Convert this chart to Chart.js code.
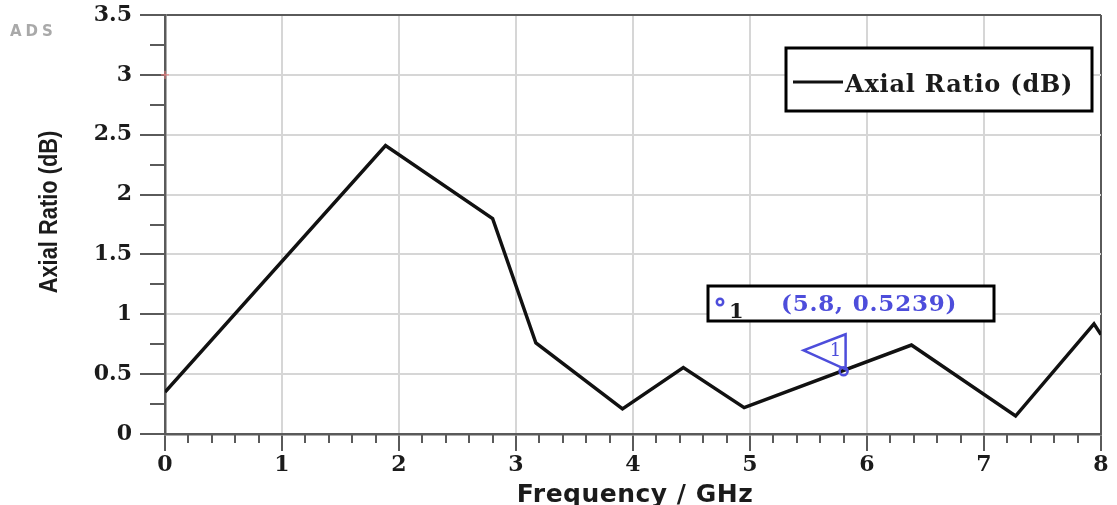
<!DOCTYPE html>
<html><head><meta charset="utf-8">
<script src="https://cdn.jsdelivr.net/npm/chart.js@4/dist/chart.umd.min.js"></script>
<style>html,body{margin:0;padding:0;background:#fff;}#wrap{width:1117px;height:505px;position:relative;}</style>
</head><body><div id="wrap"><canvas id="c"></canvas></div>
<script>
// ---- data ----
const frequency  = [0, 1.885, 2.80, 3.17, 3.91, 4.43, 4.95, 6.38, 7.27, 7.94, 8.0];
const axialRatio = [0.35, 2.41, 1.80, 0.76, 0.21, 0.555, 0.22, 0.743, 0.15, 0.92, 0.83];
const xTickValues = [0, 1, 2, 3, 4, 5, 6, 7, 8];
const yTickValues = [0, 0.5, 1, 1.5, 2, 2.5, 3, 3.5];
const xMinorStep = 0.2;
const yMinorStep = 0.25;
const markerPoint = {x: 5.8, y: 0.5239};
const markerLabel = '(5.8, 0.5239)';
const markerId = '1';
const seriesLabel = 'Axial Ratio (dB)';
const xTitle = 'Frequency / GHz';
const yTitle = 'Axial Ratio (dB)';
const cornerText = 'ADS';

const AXIS = '#5a5a5a', GRID = '#d6d6d6', BLUE = '#4d4ddb', TXT = '#1b1b1b';
const tickFont = {family: '"DejaVu Serif", serif', weight: 'bold', size: 22};

const decorations = {
  id: 'decorations',
  afterDraw(chart) {
    const {ctx, chartArea: a, scales: {x, y}} = chart;
    ctx.save();
    ctx.strokeStyle = AXIS; ctx.lineWidth = 2;
    ctx.beginPath();
    for (let v = x.min + xMinorStep; v < x.max - 1e-6; v += xMinorStep) {
      if (xTickValues.some(t => Math.abs(t - v) < 1e-6)) continue;
      const px = Math.round(x.getPixelForValue(v));
      ctx.moveTo(px, a.bottom); ctx.lineTo(px, a.bottom + 9);
    }
    for (let v = y.min + yMinorStep; v < y.max - 1e-6; v += yMinorStep) {
      if (yTickValues.some(t => Math.abs(t - v) < 1e-6)) continue;
      const py = Math.round(y.getPixelForValue(v));
      ctx.moveTo(a.left - 15, py); ctx.lineTo(a.left, py);
    }
    ctx.stroke();
    // small red cross on y axis at 3
    const ry = y.getPixelForValue(3);
    ctx.strokeStyle = '#f08080'; ctx.lineWidth = 1;
    ctx.beginPath(); ctx.moveTo(a.left - 4, ry); ctx.lineTo(a.left + 4, ry);
    ctx.moveTo(a.left, ry - 4); ctx.lineTo(a.left, ry + 4); ctx.stroke();
    // corner text
    ctx.fillStyle = '#a9a9a9';
    ctx.font = 'bold 15px "DejaVu Sans", sans-serif';
    ctx.letterSpacing = '4px';
    ctx.textBaseline = 'alphabetic'; ctx.textAlign = 'left';
    ctx.fillText(cornerText, 10, 36);
    // axis titles
    ctx.fillStyle = TXT;
    ctx.font = 'bold 25px "DejaVu Sans", sans-serif';
    ctx.letterSpacing = '0.5px';
    ctx.textAlign = 'center'; ctx.textBaseline = 'alphabetic';
    ctx.fillText(xTitle, (a.left + a.right) / 2 + 2, 502);
    ctx.letterSpacing = '0px';
    ctx.save();
    ctx.translate(50, 212);
    ctx.rotate(-Math.PI / 2);
    ctx.scale(0.84, 1);
    ctx.font = 'bold 26px "Liberation Sans", sans-serif';
    ctx.textBaseline = 'middle';
    ctx.fillText(yTitle, 0, 0);
    ctx.restore();
    ctx.restore();
  },
  afterDatasetsDraw(chart) {
    const {ctx, scales: {x, y}} = chart;
    ctx.save();
    // legend box
    ctx.fillStyle = '#fff';
    ctx.fillRect(786, 48, 306, 63);
    ctx.strokeStyle = '#000'; ctx.lineWidth = 3;
    ctx.strokeRect(786, 48, 306, 63);
    ctx.strokeStyle = '#111'; ctx.lineWidth = 3;
    ctx.beginPath(); ctx.moveTo(793, 82); ctx.lineTo(843, 82); ctx.stroke();
    ctx.fillStyle = TXT;
    ctx.font = 'bold 24px "DejaVu Serif", serif';
    ctx.letterSpacing = '0.8px';
    ctx.textBaseline = 'alphabetic'; ctx.textAlign = 'left';
    ctx.fillText(seriesLabel, 845, 92);
    // marker readout box
    ctx.fillStyle = '#fff';
    ctx.fillRect(708, 286, 286, 35);
    ctx.strokeStyle = '#000'; ctx.lineWidth = 3;
    ctx.strokeRect(708, 286, 286, 35);
    ctx.strokeStyle = BLUE; ctx.lineWidth = 2.5;
    ctx.beginPath(); ctx.arc(720, 302, 3.2, 0, Math.PI * 2); ctx.stroke();
    ctx.fillStyle = TXT;
    ctx.font = 'bold 21px "DejaVu Serif", serif';
    ctx.letterSpacing = '0px';
    ctx.fillText(markerId, 729, 318);
    ctx.fillStyle = BLUE;
    ctx.font = 'bold 23px "DejaVu Serif", serif';
    ctx.letterSpacing = '0.8px';
    ctx.fillText(markerLabel, 781, 311);
    ctx.letterSpacing = '0px';
    // marker on curve
    const px = x.getPixelForValue(markerPoint.x), py = y.getPixelForValue(markerPoint.y);
    ctx.strokeStyle = BLUE; ctx.lineWidth = 2.5;
    ctx.beginPath(); ctx.arc(px, py, 4, 0, Math.PI * 2); ctx.stroke();
    ctx.beginPath();
    ctx.moveTo(px + 2, py - 37); ctx.lineTo(px - 40, py - 21); ctx.lineTo(px + 2, py - 2); ctx.closePath();
    ctx.stroke();
    ctx.fillStyle = BLUE;
    ctx.font = '18px "DejaVu Serif", serif';
    ctx.textAlign = 'center'; ctx.textBaseline = 'middle';
    ctx.fillText(markerId, px - 8, py - 20);
    ctx.restore();
  }
};

new Chart(document.getElementById('c'), {
  type: 'line',
  data: {
    datasets: [{
      label: seriesLabel,
      data: frequency.map((f, i) => ({x: f, y: axialRatio[i]})),
      borderColor: '#111', borderWidth: 3.5, pointRadius: 0, tension: 0, fill: false
    }]
  },
  options: {
    responsive: true, maintainAspectRatio: false, animation: false,
    layout: {padding: {left: 0, top: 15, right: 16, bottom: 0}},
    plugins: {legend: {display: false}, tooltip: {enabled: false}},
    scales: {
      x: {
        type: 'linear', min: 0, max: 8,
        afterBuildTicks: s => { s.ticks = xTickValues.map(v => ({value: v})); },
        afterFit: s => { s.height = 71; s.paddingLeft = 0; s.paddingRight = 0; },
        ticks: {font: tickFont, color: TXT, padding: 1, maxRotation: 0, callback: v => String(v)},
        grid: {color: c => (c.tick && c.tick.value === 8 ? AXIS : GRID), lineWidth: 2, tickLength: 17, tickColor: AXIS, tickWidth: 2},
        border: {color: AXIS, width: 2.5},
        title: {display: false, text: xTitle}
      },
      y: {
        type: 'linear', min: 0, max: 3.5,
        afterBuildTicks: s => { s.ticks = yTickValues.map(v => ({value: v})); },
        afterFit: s => { s.width = 165; s.paddingTop = 0; s.paddingBottom = 0; },
        ticks: {font: tickFont, color: TXT, padding: 8, callback: v => String(v)},
        grid: {color: c => (c.tick && c.tick.value === 3.5 ? AXIS : GRID), lineWidth: 2, tickLength: 25, tickColor: AXIS, tickWidth: 2},
        border: {color: AXIS, width: 2.5},
        title: {display: false, text: yTitle}
      }
    }
  },
  plugins: [decorations]
});
</script></body></html>
